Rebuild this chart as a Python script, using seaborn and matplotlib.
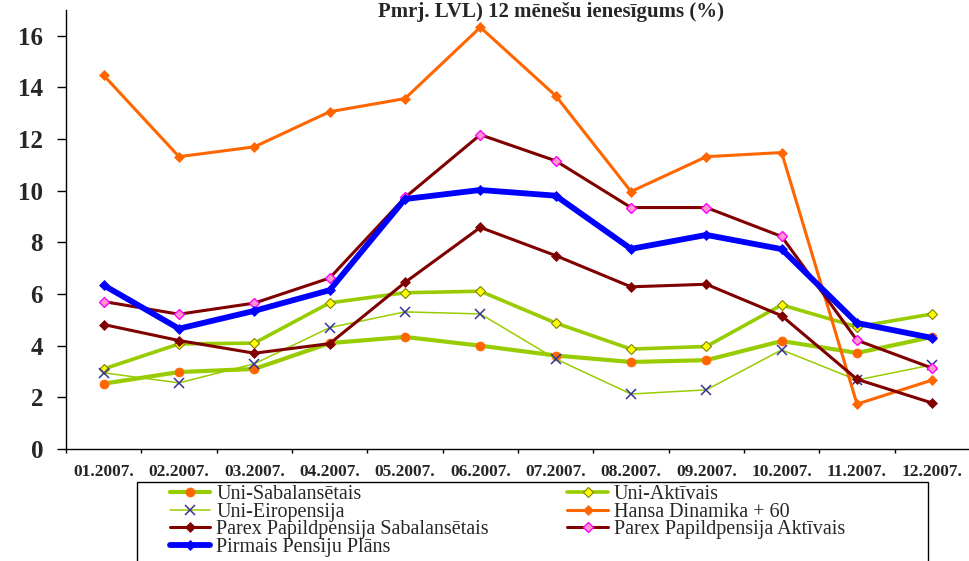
import matplotlib
matplotlib.use("Agg")
import matplotlib.pyplot as plt
import matplotlib.patches as mpatches
import numpy as np
import pandas as pd
import seaborn as sns

# months on the x axis
months = ["01.2007.", "02.2007.", "03.2007.", "04.2007.", "05.2007.", "06.2007.",
          "07.2007.", "08.2007.", "09.2007.", "10.2007.", "11.2007.", "12.2007."]

# 12-month returns (%)
uni_sabalansetais = [2.53, 2.98, 3.10, 4.10, 4.34, 4.00, 3.62, 3.37, 3.44, 4.18, 3.72, 4.34]
uni_aktivais = [3.10, 4.07, 4.10, 5.66, 6.05, 6.11, 4.88, 3.87, 3.97, 5.58, 4.73, 5.23]
uni_eiropensija = [2.95, 2.56, 3.30, 4.70, 5.31, 5.23, 3.49, 2.13, 2.29, 3.84, 2.67, 3.26]
hansa_dinamika = [14.47, 11.32, 11.70, 13.06, 13.57, 16.33, 13.68, 9.97, 11.32, 11.48, 1.74, 2.67]
parex_sabalansetais = [4.82, 4.20, 3.71, 4.08, 6.45, 8.58, 7.49, 6.28, 6.38, 5.16, 2.70, 1.78]
parex_aktivais = [5.71, 5.22, 5.65, 6.62, 9.74, 12.17, 11.16, 9.35, 9.35, 8.23, 4.21, 3.13]
pirmais_plans = [6.34, 4.66, 5.35, 6.15, 9.68, 10.03, 9.81, 7.75, 8.29, 7.74, 4.88, 4.30]

df = pd.DataFrame({
    "month": months,
    "Uni-Sabalansētais": uni_sabalansetais,
    "Uni-Aktīvais": uni_aktivais,
    "Uni-Eiropensija": uni_eiropensija,
    "Hansa Dinamika + 60": hansa_dinamika,
    "Parex Papildpensija Sabalansētais": parex_sabalansetais,
    "Parex Papildpensija Aktīvais": parex_aktivais,
    "Pirmais Pensiju Plāns": pirmais_plans,
})

# line / marker style per series (Excel-like)
styles = {
    "Uni-Sabalansētais": dict(color="#99CC00", linewidth=3.0, marker="o", markersize=6.5,
                              markerfacecolor="#FF6600", markeredgecolor="#FF6600", markeredgewidth=0.5),
    "Uni-Aktīvais": dict(color="#99CC00", linewidth=2.6, marker="D", markersize=5.5,
                         markerfacecolor="#FFFF00", markeredgecolor="#808000", markeredgewidth=0.8),
    "Uni-Eiropensija": dict(color="#99CC00", linewidth=1.1, marker="x", markersize=7.5,
                            markerfacecolor="#333399", markeredgecolor="#333399", markeredgewidth=1.1),
    "Hansa Dinamika + 60": dict(color="#FF6600", linewidth=2.2, marker="D", markersize=5.5,
                                markerfacecolor="#FF6600", markeredgecolor="#FF6600", markeredgewidth=0.5),
    "Parex Papildpensija Sabalansētais": dict(color="#800000", linewidth=2.2, marker="D", markersize=5.5,
                                              markerfacecolor="#800000", markeredgecolor="#800000",
                                              markeredgewidth=0.5),
    "Parex Papildpensija Aktīvais": dict(color="#800000", linewidth=2.2, marker="D", markersize=5.5,
                                         markerfacecolor="#FF99CC", markeredgecolor="#FF00FF",
                                         markeredgewidth=1.0),
    "Pirmais Pensiju Plāns": dict(color="#0000FF", linewidth=4.2, marker="D", markersize=5.5,
                                  markerfacecolor="#0000FF", markeredgecolor="#0000FF", markeredgewidth=0.5),
}

sns.set_style("white")
plt.rcParams["font.family"] = ["Liberation Serif", "DejaVu Serif"]

fig = plt.figure(figsize=(9.7, 5.61), dpi=100)
ax = fig.add_axes([66 / 970, 1 - 449 / 561, 1 - 66 / 970, (449 - 10) / 561])

handles = {}
for name, st in styles.items():
    sns.lineplot(data=df, x="month", y=name, ax=ax, sort=False, label=name, legend=False, **st)
    handles[name] = ax.lines[-1]

ax.set_ylim(0, 17)
ax.set_xlim(-0.5, 11.38)
ax.set_yticks(np.arange(0, 17, 2))
ax.set_xticks(range(len(months)), labels=months)
ax.set_xticks(np.arange(-0.5, 12, 1), minor=True)
ax.set_xlabel("")
ax.set_ylabel("")

for s in ["top", "right"]:
    ax.spines[s].set_visible(False)
for s in ["left", "bottom"]:
    ax.spines[s].set_color("black")
    ax.spines[s].set_linewidth(1.0)

ax.tick_params(axis="y", direction="out", length=6.5, width=1, color="black",
               labelsize=18, pad=10, left=True)
ax.tick_params(axis="x", which="major", length=0, labelsize=12.5, pad=10.5)
ax.tick_params(axis="x", which="minor", direction="out", length=3, width=1, color="black", bottom=True)
for lbl in ax.get_xticklabels() + ax.get_yticklabels():
    lbl.set_fontweight("bold")

# title
fig.text(551 / 970, 1 - 17 / 561, "Pmrj. LVL) 12 mēnešu ienesīgums (%)",
         ha="center", va="baseline", fontsize=15, fontweight="bold")

# legend: 2 columns, row-wise order like the source
order = ["Uni-Sabalansētais", "Uni-Eiropensija", "Parex Papildpensija Sabalansētais",
         "Pirmais Pensiju Plāns", "Uni-Aktīvais", "Hansa Dinamika + 60",
         "Parex Papildpensija Aktīvais"]
fig.legend([handles[n] for n in order], order, ncol=2, frameon=False,
           loc="upper left", bbox_to_anchor=(170 / 970, 1 - 485 / 561),
           fontsize=14.5, handlelength=2.0, handletextpad=0.3, labelspacing=-0.08,
           columnspacing=3.9, borderpad=0, borderaxespad=0)
fig.patches.append(mpatches.Rectangle((137 / 970, -0.05), (928 - 137) / 970, 0.05 + 1 - 482 / 561,
                                      transform=fig.transFigure, fill=False,
                                      edgecolor="black", linewidth=1.0))

fig.savefig("out.png", dpi=100)
